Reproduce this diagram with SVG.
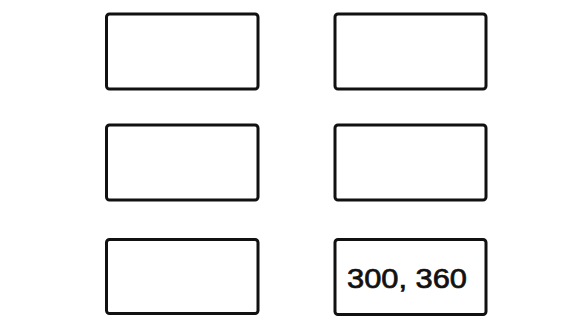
<svg xmlns="http://www.w3.org/2000/svg" width="586" height="320" viewBox="0 0 586 320">
<style>
.box{fill:#fff;stroke:#111;stroke-width:3}
.lbl{font-family:"Liberation Sans",Arial,sans-serif;font-size:27px;fill:#111;stroke:#111;stroke-width:0.7}
</style>
<rect width="586" height="320" fill="#fff"/>
<g id="connectors"></g>
<g id="n1"><rect class="box" x="106.5" y="14" width="151.5" height="75" rx="3"/></g>
<g id="n2"><rect class="box" x="335" y="14" width="151" height="75" rx="3"/></g>
<g id="n3"><rect class="box" x="106.5" y="125" width="151.5" height="75" rx="3"/></g>
<g id="n4"><rect class="box" x="335" y="125" width="151" height="75" rx="3"/></g>
<g id="n5"><rect class="box" x="106.5" y="239.5" width="151.5" height="74" rx="3"/></g>
<g id="n6"><rect class="box" x="335" y="239.5" width="151" height="75" rx="3"/><text class="lbl" x="347" y="288" textLength="120" lengthAdjust="spacingAndGlyphs">300, 360</text></g>
</svg>
